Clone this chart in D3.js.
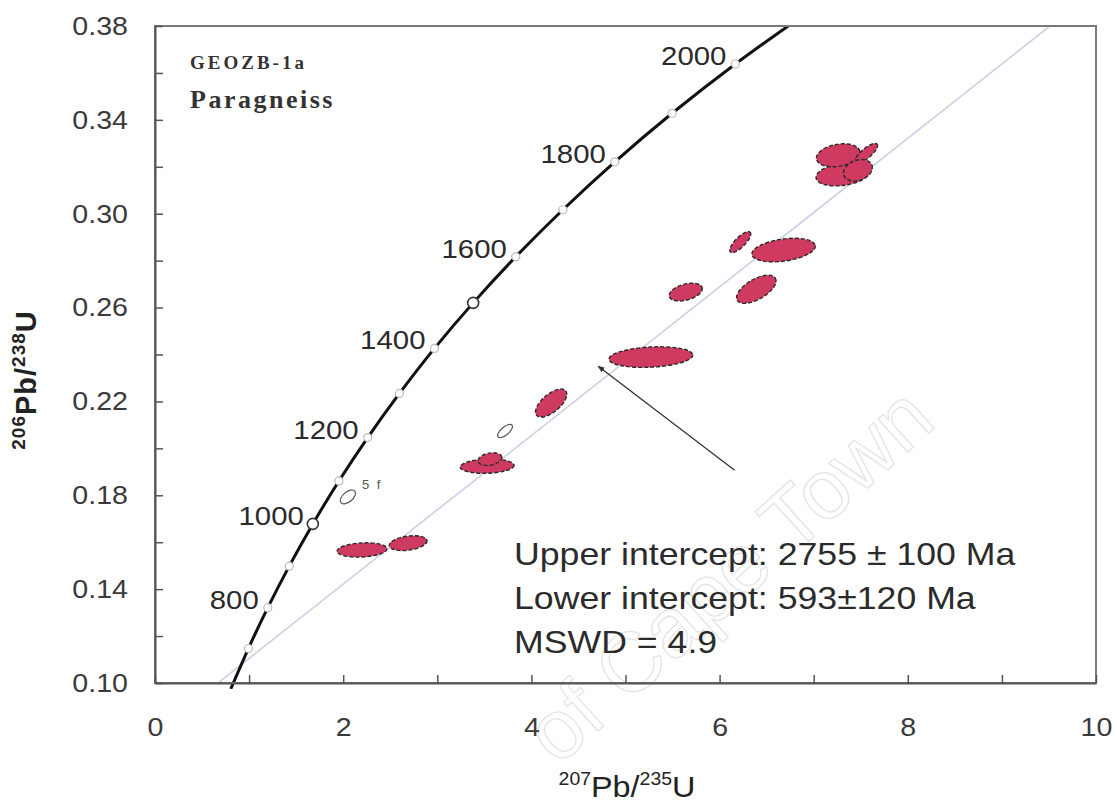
<!DOCTYPE html>
<html>
<head>
<meta charset="utf-8">
<script src="https://cdn.jsdelivr.net/npm/d3@7"></script>
<style>
  html, body { margin: 0; padding: 0; background: #ffffff; }
  svg { display: block; }
  text { font-family: "Liberation Sans", Arial, sans-serif; }
</style>
</head>
<body>
<svg id="chart" width="1117" height="808"></svg>
<script>
// ---------- data ----------
const concordiaAge = [600, 700, 800, 900, 1000, 1100, 1200, 1300, 1400, 1500, 1600, 1700, 1800, 1900, 2000, 2100];
const concordiaX   = [0.8056, 0.9925, 1.1987, 1.4264, 1.6774, 1.9546, 2.2603, 2.5977, 2.9699, 3.3812, 3.8345, 4.3346, 4.8866, 5.4956, 6.1679, 6.9103];
const concordiaY   = [0.0975, 0.1147, 0.1321, 0.1498, 0.1678, 0.1861, 0.2046, 0.2234, 0.2426, 0.2620, 0.2817, 0.3017, 0.3221, 0.3428, 0.3638, 0.3851];
const markerAges   = [700, 800, 900, 1000, 1100, 1200, 1300, 1400, 1500, 1600, 1700, 1800, 1900, 2000];
const bigMarkerAges = [1000, 1500];
const ageLabels    = [800, 1000, 1200, 1400, 1600, 1800, 2000];

const discordiaX = [0.67, 9.51];
const discordiaY = [0.10, 0.38];

// ellipse: x, y centre; semi-major in x units; semi-minor in y units; tilt (deg); filled?
const ellX     = [2.05, 2.20, 2.69, 3.53, 3.56, 3.72, 4.21, 5.27, 5.64, 6.39, 6.22, 6.68, 7.31, 7.26, 7.56, 7.47];
const ellY     = [0.1793, 0.1567, 0.1596, 0.1924, 0.1954, 0.2074, 0.2193, 0.2389, 0.2666, 0.2678, 0.2879, 0.2845, 0.3168, 0.3249, 0.3258, 0.3185];
const ellA     = [0.096, 0.266, 0.202, 0.287, 0.128, 0.096, 0.202, 0.446, 0.181, 0.234, 0.149, 0.340, 0.287, 0.234, 0.149, 0.159];
const ellB     = [0.0021, 0.0030, 0.0030, 0.0030, 0.0026, 0.0017, 0.0038, 0.0043, 0.0034, 0.0043, 0.0021, 0.0047, 0.0047, 0.0047, 0.0021, 0.0043];
const ellTilt  = [-40, -3, -8, -2, -10, -40, -40, -3, -15, -30, -45, -8, -8, -10, -40, -20];
const ellFill  = [false, true, true, true, true, false, true, true, true, true, true, true, true, true, true, true];

const xTicks = [0, 1, 2, 3, 4, 5, 6, 7, 8, 9, 10];
const xTickLabels = [0, 2, 4, 6, 8, 10];
const yTicks = [0.10, 0.12, 0.14, 0.16, 0.18, 0.20, 0.22, 0.24, 0.26, 0.28, 0.30, 0.32, 0.34, 0.36, 0.38];
const yTickLabels = ["0.10", "0.14", "0.18", "0.22", "0.26", "0.30", "0.34", "0.38"];

const arrowFrom = [6.16, 0.1907];
const arrowTo   = [4.71, 0.2350];

const resultLines = ["Upper intercept: 2755 \u00B1 100 Ma", "Lower intercept: 593\u00B1120 Ma", "MSWD = 4.9"];
const sampleName = "GEOZB-1a";
const rockType = "Paragneiss";
const spotLabel = "5 f";

// ---------- drawing ----------
const SX = 1.1; // horizontal stretch of the lettering in the reference
function stretch(sel, k) {
  sel.each(function () {
    const t = d3.select(this);
    const tx = +t.attr("x") || 0, ty = +t.attr("y") || 0;
    t.attr("x", 0).attr("y", 0).attr("transform", `translate(${tx},${ty}) scale(${k || SX},1)`);
  });
}

const svg = d3.select("#chart");
const x = d3.scaleLinear().domain([0, 10]).range([155, 1096]);
const y = d3.scaleLinear().domain([0.10, 0.38]).range([683, 26]);

const defs = svg.append("defs");
defs.append("clipPath").attr("id", "plotclip")
  .append("rect").attr("x", x(0)).attr("y", y(0.38)).attr("width", x(10) - x(0)).attr("height", y(0.10) - y(0.38) + 6);
defs.append("clipPath").attr("id", "plotclip2")
  .append("rect").attr("x", x(0)).attr("y", y(0.38)).attr("width", x(10) - x(0)).attr("height", y(0.10) - y(0.38));
defs.append("marker").attr("id", "arrowhead").attr("viewBox", "0 0 10 10")
  .attr("refX", 9).attr("refY", 5).attr("markerWidth", 7).attr("markerHeight", 7)
  .attr("orient", "auto").attr("markerUnits", "userSpaceOnUse")
  .append("path").attr("d", "M0,1 L10,5 L0,9 Z").attr("fill", "#333");

// watermark
svg.append("text")
  .attr("transform", "translate(748,596) rotate(-42)")
  .attr("text-anchor", "middle")
  .style("font-size", "84px")
  .attr("fill", "none").attr("stroke", "#e4e4e4").attr("stroke-width", 1.3)
  .text("of Cape Town");

// discordia
svg.append("line")
  .attr("clip-path", "url(#plotclip2)")
  .attr("x1", x(discordiaX[0])).attr("y1", y(discordiaY[0]))
  .attr("x2", x(discordiaX[1])).attr("y2", y(discordiaY[1]))
  .attr("stroke", "#ccd0e6").attr("stroke-width", 1.6);

// concordia curve
const pts = concordiaAge.map((a, i) => [concordiaX[i], concordiaY[i]]);
svg.append("path")
  .attr("clip-path", "url(#plotclip)")
  .attr("d", d3.line().x(d => x(d[0])).y(d => y(d[1])).curve(d3.curveCatmullRom)(pts))
  .attr("fill", "none").attr("stroke", "#111").attr("stroke-width", 3);

// markers
markerAges.forEach(a => {
  const i = concordiaAge.indexOf(a);
  const big = bigMarkerAges.includes(a);
  svg.append("circle")
    .attr("cx", x(concordiaX[i])).attr("cy", y(concordiaY[i]))
    .attr("r", big ? 5.5 : 4)
    .attr("fill", "#fff").attr("stroke", big ? "#333" : "#bbb").attr("stroke-width", big ? 1.6 : 1.2);
});
ageLabels.forEach(a => {
  const i = concordiaAge.indexOf(a);
  svg.append("text")
    .attr("x", x(concordiaX[i]) - 9).attr("y", y(concordiaY[i]) + 1)
    .attr("text-anchor", "end")
    .style("font-size", "26px").attr("fill", "#2a2a2a")
    .text(a)
    .call(stretch, 1.13);
});

// ellipses
ellX.forEach((cx0, i) => {
  const cx = x(cx0), cy = y(ellY[i]);
  const rx = x(ellA[i]) - x(0);
  const ry = y(0.10) - y(0.10 + ellB[i]);
  svg.append("ellipse")
    .attr("cx", cx).attr("cy", cy).attr("rx", rx).attr("ry", ry)
    .attr("transform", `rotate(${ellTilt[i]},${cx},${cy})`)
    .attr("fill", ellFill[i] ? "#cf3a60" : "#ffffff")
    .attr("stroke", ellFill[i] ? "#2a2a2a" : "#555")
    .attr("stroke-width", ellFill[i] ? 1.4 : 1.2)
    .attr("stroke-dasharray", ellFill[i] ? "4,2" : null);
});
// spot label
svg.append("text")
  .attr("x", x(ellX[0]) + 14).attr("y", y(ellY[0]) - 8)
  .style("font-size", "13px").attr("fill", "#555")
  .attr("letter-spacing", "2px")
  .text(spotLabel);

// arrow
svg.append("line")
  .attr("x1", x(arrowFrom[0])).attr("y1", y(arrowFrom[1]))
  .attr("x2", x(arrowTo[0])).attr("y2", y(arrowTo[1]))
  .attr("stroke", "#333").attr("stroke-width", 1.3)
  .attr("marker-end", "url(#arrowhead)");

// frame
svg.append("rect")
  .attr("x", x(0)).attr("y", y(0.38)).attr("width", x(10) - x(0)).attr("height", y(0.10) - y(0.38))
  .attr("fill", "none").attr("stroke", "#7a7a7a").attr("stroke-width", 2);

// axes
const yAxis = d3.axisLeft(y).tickValues(yTicks).tickSizeInner(-8).tickSizeOuter(0).tickPadding(27)
  .tickFormat(d => { const s = d.toFixed(2); return yTickLabels.includes(s) ? s : ""; });
const gy = svg.append("g").attr("transform", `translate(${x(0)},0)`).call(yAxis);
gy.select(".domain").attr("stroke", "#555").attr("stroke-width", 2);
gy.selectAll(".tick line").attr("stroke", "#555").attr("stroke-width", 1.5);
gy.selectAll(".tick text").style("font-size", "26px").attr("fill", "#3a3a3a")
  .style("font-family", "'Liberation Sans', Arial, sans-serif")
  .each(function () {
    const t = d3.select(this);
    t.attr("transform", `translate(${t.attr("x")},0) scale(${SX},1)`).attr("x", 0);
  });

const xAxis = d3.axisBottom(x).tickValues(xTicks).tickSizeInner(-8).tickSizeOuter(0).tickPadding(35)
  .tickFormat(d => xTickLabels.includes(d) ? String(d) : "");
const gx = svg.append("g").attr("transform", `translate(0,${y(0.10)})`).call(xAxis);
gx.select(".domain").attr("stroke", "#555").attr("stroke-width", 2);
gx.selectAll(".tick line").attr("stroke", "#555").attr("stroke-width", 1.5);
gx.selectAll(".tick text").style("font-size", "26px").attr("fill", "#3a3a3a")
  .style("font-family", "'Liberation Sans', Arial, sans-serif")
  .each(function () {
    const t = d3.select(this);
    t.attr("transform", `translate(0,${t.attr("y")}) scale(${SX},1)`).attr("y", 0);
  });

// sample labels
svg.append("text").attr("x", 190).attr("y", 69)
  .style("font-family", "'Liberation Serif', 'Times New Roman', serif")
  .style("font-weight", "bold").style("font-size", "19px").attr("letter-spacing", "3px")
  .attr("fill", "#333").text(sampleName);
svg.append("text").attr("x", 190).attr("y", 108)
  .style("font-family", "'Liberation Serif', 'Times New Roman', serif")
  .style("font-weight", "bold").style("font-size", "26px").attr("letter-spacing", "2.5px")
  .attr("fill", "#333").text(rockType);

// results text
resultLines.forEach((t, i) => {
  svg.append("text").attr("x", 514).attr("y", 565 + i * 44)
    .style("font-size", "32px").attr("fill", "#2b2b2b").text(t)
    .call(stretch, 1.115);
});

// axis titles
const xt = svg.append("text").attr("x", 627).attr("y", 797).attr("text-anchor", "middle")
  .style("font-size", "30px").attr("fill", "#222");
xt.append("tspan").style("font-size", "18px").attr("dy", -12).text("207");
xt.append("tspan").attr("dy", 12).text("Pb/");
xt.append("tspan").style("font-size", "18px").attr("dy", -12).text("235");
xt.append("tspan").attr("dy", 12).text("U");
xt.call(stretch, 1.08);

const yt = svg.append("text").attr("transform", "translate(36,380) rotate(-90)").attr("text-anchor", "middle")
  .style("font-size", "29px").style("font-weight", "bold").attr("fill", "#222").attr("letter-spacing", "1px");
yt.append("tspan").style("font-size", "19px").attr("dy", -11).text("206");
yt.append("tspan").attr("dy", 11).text("Pb/");
yt.append("tspan").style("font-size", "19px").attr("dy", -11).text("238");
yt.append("tspan").attr("dy", 11).text("U");
</script>
</body>
</html>
